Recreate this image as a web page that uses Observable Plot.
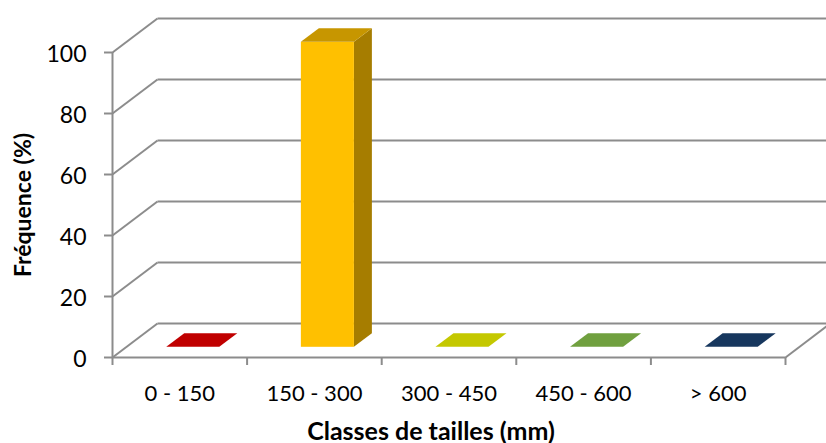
<!DOCTYPE html>
<html><head><meta charset="utf-8">
<script src="https://cdn.jsdelivr.net/npm/d3@7"></script>
<script src="https://cdn.jsdelivr.net/npm/@observablehq/plot@0.6"></script>
<style>body{margin:0;background:#fff}</style>
</head><body><div id="chart"></div>
<script>
const categories = ["0 - 150", "150 - 300", "300 - 450", "450 - 600", "> 600"];
const frequencies = [0, 100, 0, 0, 0];
const barColors = ["#C00000", "#FFC000", "#C4C800", "#70A03F", "#17375E"];
const yTicks = [0, 20, 40, 60, 80, 100];
const classBounds = [0, 1, 2, 3, 4, 5];
const yTitle = "Fréquence (%)";
const xTitle = "Classes de tailles (mm)";

// 3D projection (in scale units): depth of the floor
const DX = 0.334, DY = 11.15;
const F0 = 0.3, F1 = 0.7; // bar front/back depth fractions
const W = 0.394;          // bar width in category units
const GRAY = "#8C8C8C";
const shade = (c, k) => d3.rgb(c).darker(k).formatHex();

const bars = categories.map((c, i) => ({c, i, v: frequencies[i], color: barColors[i]}));
const L = (b, f) => b.i + 0.5 - W / 2 + f * DX;
const R = (b, f) => b.i + 0.5 + W / 2 + f * DX;
const topPts = bars.flatMap(b => [F0, F1].map(f => ({
  c: b.c, y: b.v + f * DY, x1: L(b, f), x2: R(b, f),
  fill: b.v > 0 ? shade(b.color, 0.7) : b.color })));
const sidePts = bars.filter(b => b.v > 0).flatMap(b => [F0, F1].map(f => ({
  c: b.c, x: R(b, f), y1: f * DY, y2: b.v + f * DY, fill: shade(b.color, 1.2) })));
const fronts = bars.filter(b => b.v > 0).map(b => ({
  x1: L(b, F0), x2: R(b, F0), y1: F0 * DY, y2: b.v + F0 * DY, fill: b.color }));

const chart = Plot.plot({
  width: 826, height: 443,
  marginLeft: 112, marginRight: 41, marginTop: 52, marginBottom: 86,
  style: {fontFamily: "Lato, sans-serif", fontSize: "22px", color: "black", background: "white"},
  x: {type: "linear", domain: [0, 5]},
  y: {type: "linear", domain: [0, 100]},
  color: {type: "identity"},
  marks: [
    // back wall gridlines
    Plot.link(yTicks, {x1: DX, x2: 5 + DX, y1: d => d + DY, y2: d => d + DY, stroke: GRAY, strokeWidth: 2}),
    // side wall diagonals
    Plot.link(yTicks, {x1: 0, x2: DX, y1: d => d, y2: d => d + DY, stroke: GRAY, strokeWidth: 2}),
    // right floor edge
    Plot.link([0], {x1: 5, x2: 5 + DX, y1: 0, y2: DY, stroke: GRAY, strokeWidth: 2}),
    // front floor & axis lines
    Plot.ruleY([0], {x1: 0, x2: 5, stroke: GRAY, strokeWidth: 2}),
    Plot.ruleX([0], {y1: 0, y2: 100, stroke: GRAY, strokeWidth: 2}),
    // bars
    Plot.areaY(sidePts, {x: "x", y1: "y1", y2: "y2", z: "c", fill: "fill"}),
    Plot.rect(fronts, {x1: "x1", x2: "x2", y1: "y1", y2: "y2", fill: "fill"}),
    Plot.areaX(topPts, {y: "y", x1: "x1", x2: "x2", z: "c", fill: "fill"}),
    // axes
    Plot.axisY({ticks: yTicks, tickSize: 8, tickFormat: () => "", stroke: GRAY, strokeWidth: 2, label: null}),
    Plot.text(yTicks, {x: 0, y: d => d, text: d => String(d), textAnchor: "end", dx: -26, dy: 2, fontSize: 23, fill: "black"}),
    Plot.axisX({ticks: classBounds, tickSize: 8, tickFormat: () => "", stroke: GRAY, strokeWidth: 2, label: null}),
    Plot.text(bars, {x: b => b.i + 0.5, y: 0, text: "c", dy: 36, fontSize: 22, fill: "black"}),
    Plot.text([yTitle], {frameAnchor: "left", rotate: -90, textAnchor: "middle", dx: -89, fontSize: 23, fontWeight: "bold", fill: "black"}),
    Plot.text([xTitle], {frameAnchor: "bottom", textAnchor: "middle", dx: -18, dy: 82, fontSize: 25, fontWeight: "bold", fill: "black"})
  ]
});
document.getElementById("chart").append(chart);
</script>
</body></html>
